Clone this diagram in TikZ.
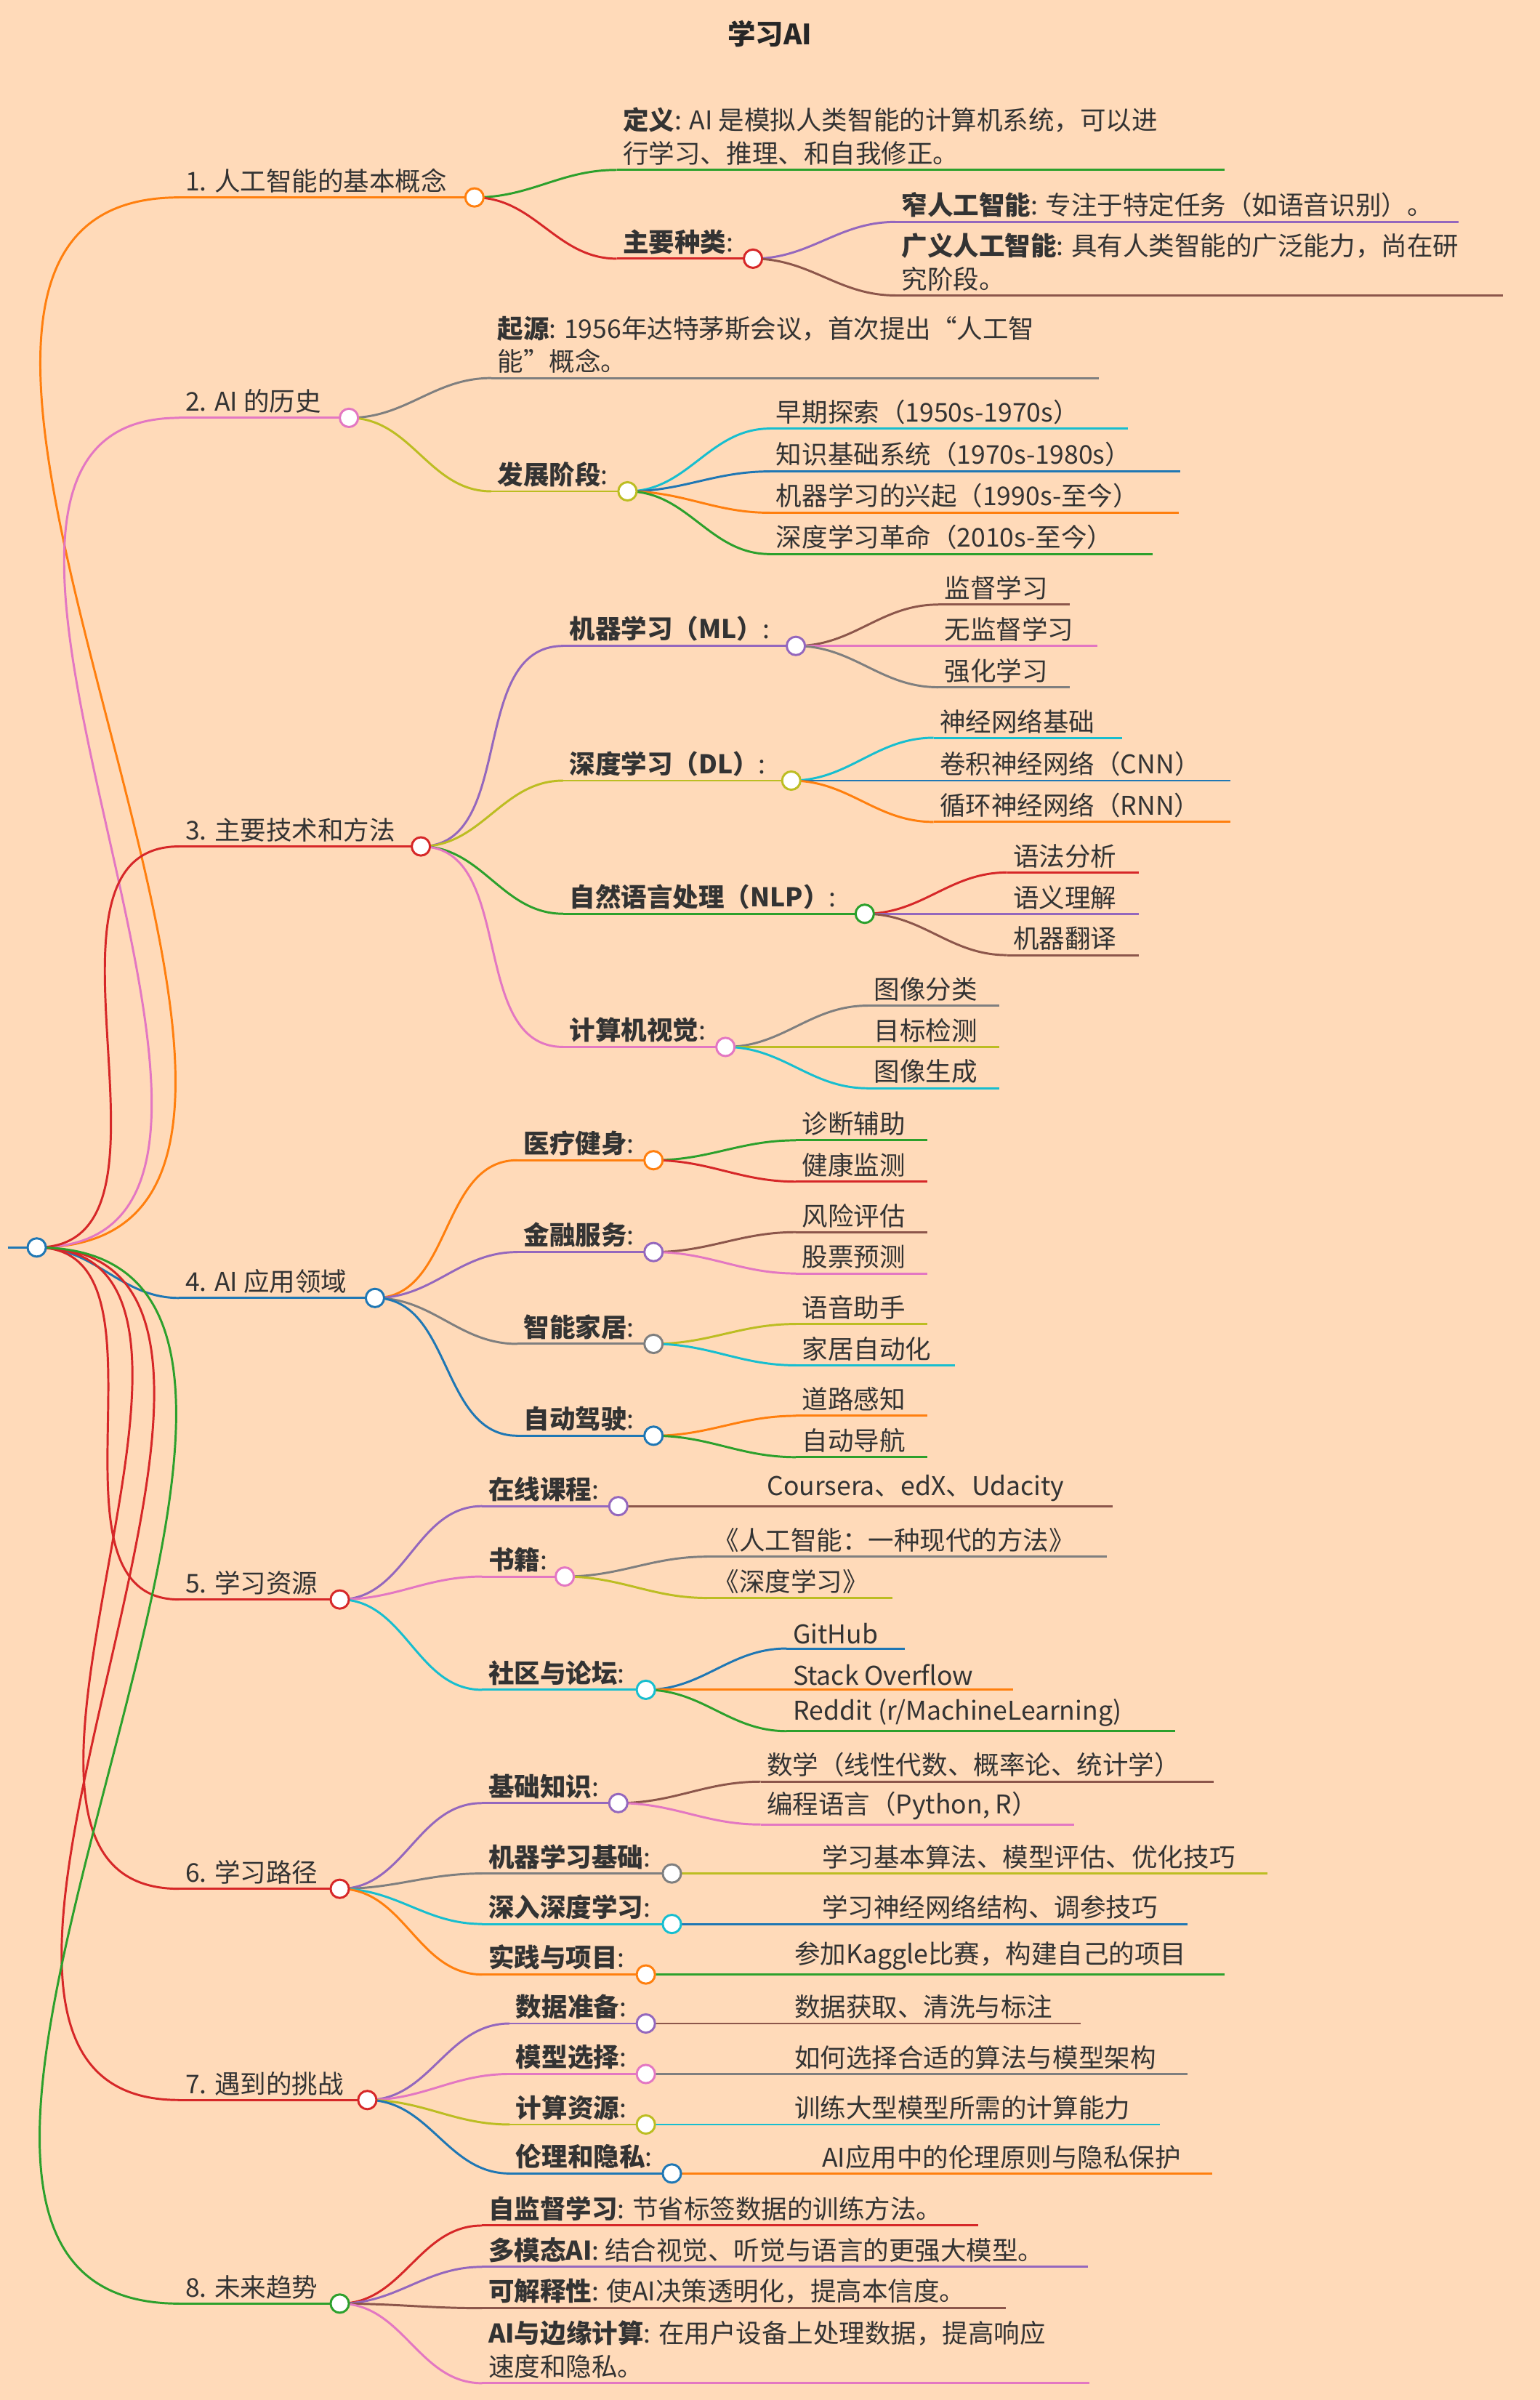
\documentclass[tikz,border=0pt]{standalone}
\usepackage{fontspec}
\setmainfont{Noto Sans CJK SC}
\definecolor{bgpeach}{HTML}{FFDAB9}
\definecolor{mmblue}{HTML}{1F77B4}
\definecolor{mmorange}{HTML}{FF7F0E}
\definecolor{mmgreen}{HTML}{2CA02C}
\definecolor{mmred}{HTML}{D62728}
\definecolor{mmpurple}{HTML}{9467BD}
\definecolor{mmbrown}{HTML}{8C564B}
\definecolor{mmpink}{HTML}{E377C2}
\definecolor{mmgray}{HTML}{7F7F7F}
\definecolor{mmolive}{HTML}{BCBD22}
\definecolor{mmcyan}{HTML}{17BECF}
\tikzset{
  edge/.style={line width=2pt},
  hubnode/.style={circle,fill=white,line width=2pt,minimum size=17pt,inner sep=0pt},
  lbl/.style={anchor=south west,inner xsep=0pt,inner ysep=4pt,text=black!80,
    font=\fontsize{24}{31}\selectfont,align=left}
}
% one labelled line: name, text x, end x, y, colour, text
\newcommand\topic[6]{%
  \expandafter\gdef\csname col#1\endcsname{#5}%
  \draw[edge,#5] (#2-4,#4) coordinate (#1s) -- (#3,#4) coordinate (#1);
  \node[lbl] (#1t) at (#2,#4) {#6};}
\begin{document}
\begin{tikzpicture}[x=0.05cm,y=-0.05cm]
\useasboundingbox[fill=bgpeach] (0,0) rectangle (1006,1568);
\node[font=\fontsize{26}{30}\selectfont\bfseries,text=black!85] (title) at (503,22) {学习AI};

\coordinate (root) at (24,815);
\expandafter\gdef\csname colroot\endcsname{mmblue}
\draw[edge,mmblue] (5,815) -- (root);

% 1
\topic{a}{121}{310}{129}{mmorange}{1. 人工智能的基本概念}
\topic{a1}{407}{800}{111}{mmgreen}{\textbf{定义}: AI 是模拟人类智能的计算机系统，可以进\\行学习、推理、和自我修正。}
\topic{a2}{407}{492}{169}{mmred}{\textbf{主要种类}:}
\topic{a21}{589}{953}{145}{mmpurple}{\textbf{窄人工智能}: 专注于特定任务（如语音识别）。}
\topic{a22}{589}{982}{193}{mmbrown}{\textbf{广义人工智能}: 具有人类智能的广泛能力，尚在研\\究阶段。}
% 2
\topic{b}{121}{228}{273}{mmpink}{2. AI 的历史}
\topic{b1}{325}{718}{247}{mmgray}{\textbf{起源}: 1956年达特茅斯会议，首次提出“人工智\\能”概念。}
\topic{b2}{325}{410}{321}{mmolive}{\textbf{发展阶段}:}
\topic{b21}{507}{737}{280}{mmcyan}{早期探索（1950s-1970s）}
\topic{b22}{507}{771}{308}{mmblue}{知识基础系统（1970s-1980s）}
\topic{b23}{507}{770}{335}{mmorange}{机器学习的兴起（1990s-至今）}
\topic{b24}{507}{753}{362}{mmgreen}{深度学习革命（2010s-至今）}
% 3
\topic{c}{121}{275}{553}{mmred}{3. 主要技术和方法}
\topic{c1}{372}{520}{422}{mmpurple}{\textbf{机器学习（ML）}:}
\topic{c11}{617}{699}{395}{mmbrown}{监督学习}
\topic{c12}{617}{717}{422}{mmpink}{无监督学习}
\topic{c13}{617}{699}{449}{mmgray}{强化学习}
\topic{c2}{372}{517}{510}{mmolive}{\textbf{深度学习（DL）}:}
\topic{c21}{614}{733}{482}{mmcyan}{神经网络基础}
\topic{c22}{614}{804}{510}{mmblue}{卷积神经网络（CNN）}
\topic{c23}{614}{804}{537}{mmorange}{循环神经网络（RNN）}
\topic{c3}{372}{565}{597}{mmgreen}{\textbf{自然语言处理（NLP）}:}
\topic{c31}{662}{744}{570}{mmred}{语法分析}
\topic{c32}{662}{744}{597}{mmpurple}{语义理解}
\topic{c33}{662}{744}{624}{mmbrown}{机器翻译}
\topic{c4}{372}{474}{684}{mmpink}{\textbf{计算机视觉}:}
\topic{c41}{571}{653}{657}{mmgray}{图像分类}
\topic{c42}{571}{653}{684}{mmolive}{目标检测}
\topic{c43}{571}{653}{711}{mmcyan}{图像生成}
% 4
\topic{d}{121}{245}{848}{mmblue}{4. AI 应用领域}
\topic{d1}{342}{427}{758}{mmorange}{\textbf{医疗健身}:}
\topic{d11}{524}{606}{745}{mmgreen}{诊断辅助}
\topic{d12}{524}{606}{772}{mmred}{健康监测}
\topic{d2}{342}{427}{818}{mmpurple}{\textbf{金融服务}:}
\topic{d21}{524}{606}{805}{mmbrown}{风险评估}
\topic{d22}{524}{606}{832}{mmpink}{股票预测}
\topic{d3}{342}{427}{878}{mmgray}{\textbf{智能家居}:}
\topic{d31}{524}{606}{865}{mmolive}{语音助手}
\topic{d32}{524}{624}{892}{mmcyan}{家居自动化}
\topic{d4}{342}{427}{938}{mmblue}{\textbf{自动驾驶}:}
\topic{d41}{524}{606}{925}{mmorange}{道路感知}
\topic{d42}{524}{606}{952}{mmgreen}{自动导航}
% 5
\topic{e}{121}{222}{1045}{mmred}{5. 学习资源}
\topic{e1}{319}{404}{984}{mmpurple}{\textbf{在线课程}:}
\topic{e11}{501}{727}{984}{mmbrown}{Coursera、edX、Udacity}
\topic{e2}{319}{369}{1030}{mmpink}{\textbf{书籍}:}
\topic{e21}{466}{723}{1017}{mmgray}{《人工智能：一种现代的方法》}
\topic{e22}{466}{583}{1044}{mmolive}{《深度学习》}
\topic{e3}{319}{422}{1104}{mmcyan}{\textbf{社区与论坛}:}
\topic{e31}{518}{591}{1077}{mmblue}{GitHub}
\topic{e32}{518}{662}{1104}{mmorange}{Stack Overflow}
\topic{e33}{518}{768}{1131}{mmgreen}{Reddit (r/MachineLearning)}
% 6
\topic{f}{121}{222}{1234}{mmred}{6. 学习路径}
\topic{f1}{319}{404}{1178}{mmpurple}{\textbf{基础知识}:}
\topic{f11}{501}{793}{1164}{mmbrown}{数学（线性代数、概率论、统计学）}
\topic{f12}{501}{702}{1192}{mmpink}{编程语言（Python, R）}
\topic{f2}{319}{439}{1224}{mmgray}{\textbf{机器学习基础}:}
\topic{f21}{537}{828}{1224}{mmolive}{学习基本算法、模型评估、优化技巧}
\topic{f3}{319}{439}{1257}{mmcyan}{\textbf{深入深度学习}:}
\topic{f31}{537}{776}{1257}{mmblue}{学习神经网络结构、调参技巧}
\topic{f4}{319}{422}{1290}{mmorange}{\textbf{实践与项目}:}
\topic{f41}{519}{800}{1290}{mmgreen}{参加Kaggle比赛，构建自己的项目}
% 7
\topic{g}{121}{240}{1372}{mmred}{7. 遇到的挑战}
\topic{g1}{337}{422}{1322}{mmpurple}{\textbf{数据准备}:}
\topic{g11}{519}{706}{1322}{mmbrown}{数据获取、清洗与标注}
\topic{g2}{337}{422}{1355}{mmpink}{\textbf{模型选择}:}
\topic{g21}{519}{776}{1355}{mmgray}{如何选择合适的算法与模型架构}
\topic{g3}{337}{422}{1388}{mmolive}{\textbf{计算资源}:}
\topic{g31}{519}{758}{1388}{mmcyan}{训练大型模型所需的计算能力}
\topic{g4}{337}{439}{1420}{mmblue}{\textbf{伦理和隐私}:}
\topic{g41}{537}{792}{1420}{mmorange}{AI应用中的伦理原则与隐私保护}
% 8
\topic{h}{121}{222}{1505}{mmgreen}{8. 未来趋势}
\topic{h1}{319}{639}{1454}{mmred}{\textbf{自监督学习}: 节省标签数据的训练方法。}
\topic{h2}{319}{711}{1481}{mmpurple}{\textbf{多模态AI}: 结合视觉、听觉与语言的更强大模型。}
\topic{h3}{319}{657}{1508}{mmbrown}{\textbf{可解释性}: 使AI决策透明化，提高本信度。}
\topic{h4}{319}{712}{1557}{mmpink}{\textbf{AI与边缘计算}: 在用户设备上处理数据，提高响应\\速度和隐私。}

% connectors, coloured as the child
\foreach \pa/\ch in {root/a,root/b,root/c,root/d,root/e,root/f,root/g,root/h,
  a/a1,a/a2,a2/a21,a2/a22,b/b1,b/b2,b2/b21,b2/b22,b2/b23,b2/b24,
  c/c1,c/c2,c/c3,c/c4,c1/c11,c1/c12,c1/c13,c2/c21,c2/c22,c2/c23,
  c3/c31,c3/c32,c3/c33,c4/c41,c4/c42,c4/c43,
  d/d1,d/d2,d/d3,d/d4,d1/d11,d1/d12,d2/d21,d2/d22,d3/d31,d3/d32,d4/d41,d4/d42,
  e/e1,e/e2,e/e3,e1/e11,e2/e21,e2/e22,e3/e31,e3/e32,e3/e33,
  f/f1,f/f2,f/f3,f/f4,f1/f11,f1/f12,f2/f21,f3/f31,f4/f41,
  g/g1,g/g2,g/g3,g/g4,g1/g11,g2/g21,g3/g31,g4/g41,
  h/h1,h/h2,h/h3,h/h4}
  \draw[edge,color=\csname col\ch\endcsname] (\pa) to[out=0,in=180] (\ch s);

% hub circles
\foreach \hb in {root,a,b,c,d,e,f,g,h,a2,b2,c1,c2,c3,c4,d1,d2,d3,d4,
  e1,e2,e3,f1,f2,f3,f4,g1,g2,g3,g4}
  \node[hubnode,draw=\csname col\hb\endcsname] at (\hb) {};
\end{tikzpicture}
\end{document}
